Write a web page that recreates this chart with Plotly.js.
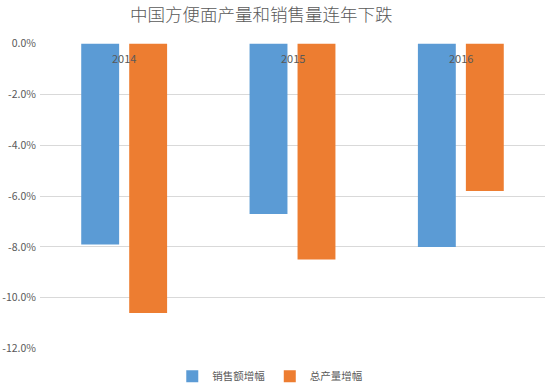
<!DOCTYPE html>
<html><head><meta charset="utf-8">
<script src="https://cdn.plot.ly/plotly-3.0.1.min.js"></script>
<style>html,body{margin:0;padding:0;background:#fff}</style>
</head><body>
<div id="chart" style="width:551px;height:391px"></div>
<script>
const categories = ['2014', '2015', '2016'];
const salesGrowth = [-0.079, -0.067, -0.080];
const outputGrowth = [-0.106, -0.085, -0.058];
const seriesNames = ['销售额增幅', '总产量增幅'];
const yTickVals = [0, -0.02, -0.04, -0.06, -0.08, -0.10, -0.12];
const yTickText = ['0.0%', '-2.0%', '-4.0%', '-6.0%', '-8.0%', '-10.0%', '-12.0%'];

const font = "'Noto Sans CJK SC', 'Microsoft YaHei', sans-serif";
const data = [
  {type: 'bar', name: seriesNames[0], x: categories, y: salesGrowth, marker: {color: '#5B9BD5'}},
  {type: 'bar', name: seriesNames[1], x: categories, y: outputGrowth, marker: {color: '#ED7D31'}}
];
const annotations = categories.map(c => ({
  x: c, y: 0, xref: 'x', yref: 'y', text: c, showarrow: false,
  yanchor: 'top', yshift: -4, font: {size: 11, color: '#595959', family: font}
}));
const layout = {
  width: 551, height: 391,
  margin: {l: 40, r: 6, t: 43, b: 42},
  paper_bgcolor: '#fff', plot_bgcolor: '#fff',
  font: {family: font, color: '#595959', size: 11},
  title: {text: '中国方便面产量和销售量连年下跌', font: {family: font, size: 17.5, weight: 300, color: '#595959'}, x: 0.474, xanchor: 'center', y: 0.962, yanchor: 'middle'},
  barmode: 'group', bargap: 0.43, bargroupgap: 0.21,
  xaxis: {showticklabels: false, showgrid: false, showline: false, zeroline: false, ticks: ''},
  yaxis: {range: [-0.1202, 0.0003], tickvals: yTickVals, ticktext: yTickText, showgrid: true, gridcolor: '#d9d9d9', gridwidth: 1, zeroline: false, showline: false, ticks: '', ticklabelstandoff: 3, tickfont: {size: 10.5, color: '#595959'}, automargin: false},
  annotations: annotations,
  showlegend: true,
  legend: {orientation: 'h', x: 0.455, xanchor: 'center', yref: 'container', y: 0.038, yanchor: 'middle', font: {size: 10.5, color: '#595959'}, itemwidth: 30, traceorder: 'normal'}
};
Plotly.newPlot('chart', data, layout, {displayModeBar: false});
</script>
</body></html>
